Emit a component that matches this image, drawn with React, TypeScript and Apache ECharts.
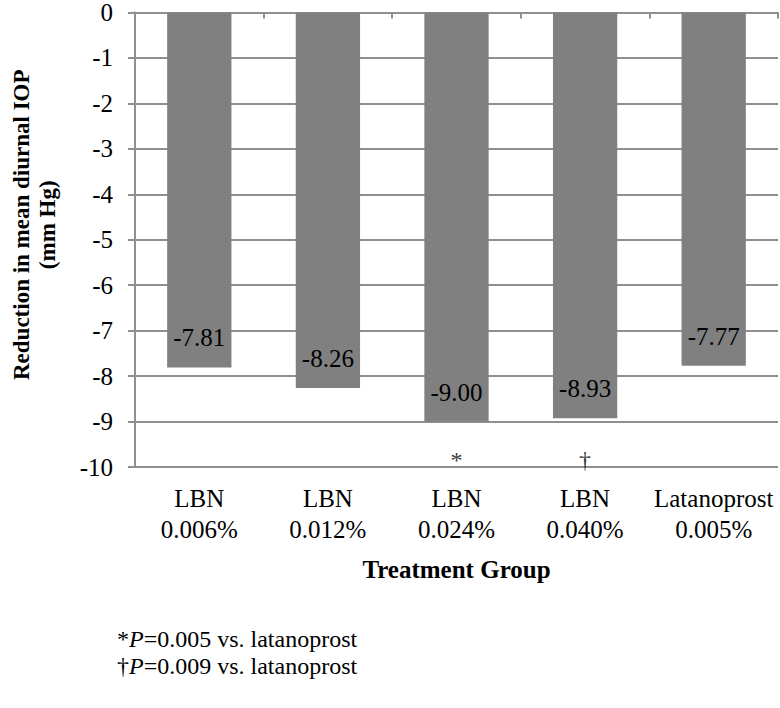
import React, { useEffect, useRef } from "react";
import * as echarts from "echarts";

const categories = ["LBN\n0.006%", "LBN\n0.012%", "LBN\n0.024%", "LBN\n0.040%", "Latanoprost\n0.005%"];
const reductions = [-7.81, -8.26, -9.0, -8.93, -7.77];
const significance = ["", "", "*", "\u2020", ""];
const yAxisName = "Reduction in mean diurnal IOP\n(mm Hg)";
const xAxisName = "Treatment Group";
const footnotes = [
  { mark: "*", p: "0.005" },
  { mark: "\u2020", p: "0.009" },
];

const FONT = "Liberation Serif";
const GRID_COLOR = "#8f8f8f";
const MARK_LEVEL = -9.85;

export default function App() {
  const ref = useRef<HTMLDivElement>(null);

  useEffect(() => {
    if (!ref.current) return;
    const chart = echarts.init(ref.current, undefined, { renderer: "svg" });
    const option: any = {
      animation: false,
      backgroundColor: "#ffffff",
      textStyle: { fontFamily: FONT, color: "#000" },
      grid: { left: 119, right: 2, top: 7, bottom: 241, containLabel: false },
      xAxis: [
        {
          type: "category",
          position: "top",
          data: categories,
          boundaryGap: true,
          axisLine: { show: true, onZero: false, lineStyle: { color: GRID_COLOR, width: 2 } },
          axisTick: { show: true, inside: true, length: 6, lineStyle: { color: GRID_COLOR, width: 2 } },
          axisLabel: { show: false },
          splitLine: { show: false },
        },
        {
          type: "category",
          position: "bottom",
          data: categories,
          boundaryGap: true,
          axisLine: { show: false, onZero: false },
          axisTick: { show: false },
          axisLabel: {
            show: true,
            fontFamily: FONT,
            fontSize: 25,
            lineHeight: 31,
            margin: 16,
            color: "#000",
            interval: 0,
          },
          name: xAxisName,
          nameLocation: "middle",
          nameGap: 90,
          nameTextStyle: { fontFamily: FONT, fontSize: 25, fontWeight: "bold", color: "#000" },
          splitLine: { show: false },
        },
      ],
      yAxis: {
        type: "value",
        min: -10,
        max: 0,
        interval: 1,
        axisLine: { show: true, lineStyle: { color: GRID_COLOR, width: 2 } },
        axisTick: { show: true, inside: false, length: 7, lineStyle: { color: GRID_COLOR, width: 2 } },
        axisLabel: { fontFamily: FONT, fontSize: 25, color: "#000", margin: 22 },
        splitLine: { show: true, lineStyle: { color: GRID_COLOR, width: 2 } },
        name: yAxisName,
        nameLocation: "middle",
        nameGap: 75,
        nameTextStyle: {
          fontFamily: FONT,
          fontSize: 23,
          fontWeight: "bold",
          color: "#000",
          lineHeight: 26,
          padding: [0, 0, 0, 30],
        },
      },
      series: [
        {
          type: "bar",
          xAxisIndex: 0,
          data: reductions,
          barWidth: "50%",
          itemStyle: { color: "#808080" },
          label: {
            show: true,
            position: "insideBottom",
            distance: 17,
            fontFamily: FONT,
            fontSize: 25,
            color: "#000",
            formatter: (p: any) => Number(p.value).toFixed(2),
          },
        },
        {
          type: "scatter",
          xAxisIndex: 0,
          symbolSize: 0,
          data: significance.map((s, i) => (s ? [i, MARK_LEVEL] : null)).filter((d) => d !== null),
          label: {
            show: true,
            position: "inside",
            fontFamily: FONT,
            fontSize: 24,
            color: "#000",
            formatter: (p: any) => significance[p.value[0]],
          },
        },
      ],
      graphic: footnotes.map((f, i) => ({
        type: "text",
        left: 117,
        top: 627 + i * 27,
        style: {
          text: `{n|${f.mark}}{i|P}{n|=${f.p} vs. latanoprost}`,
          rich: {
            n: { fontFamily: FONT, fontSize: 24, fill: "#000" },
            i: { fontFamily: FONT, fontSize: 24, fontStyle: "italic", fill: "#000" },
          },
        },
      })),
    };
    chart.setOption(option);
    return () => chart.dispose();
  }, []);

  return (
    <div
      ref={ref}
      style={{ position: "fixed", left: 0, top: 0, width: 780, height: 708 }}
    />
  );
}
